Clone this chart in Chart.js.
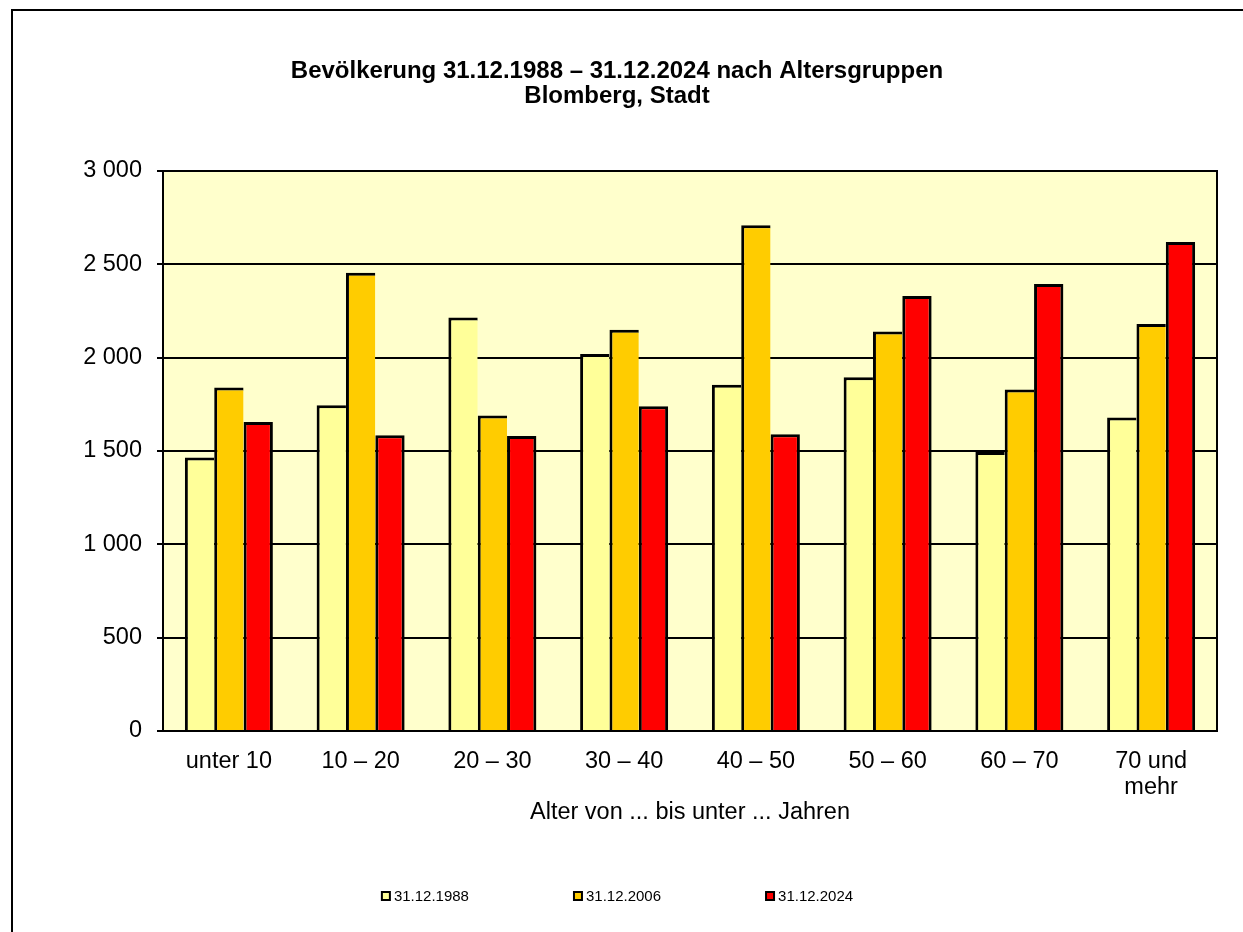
<!DOCTYPE html>
<html>
<head>
<meta charset="utf-8">
<script src="https://cdn.jsdelivr.net/npm/chart.js@4/dist/chart.umd.min.js"></script>
<style>
  html, body { margin: 0; padding: 0; background: #fff; overflow: hidden; }
  #frame { position: absolute; left: 11px; top: 9px; width: 3000px; height: 3000px;
           border-left: 2px solid #000; border-top: 2px solid #000; box-sizing: border-box; }
  #c { position: absolute; left: 0; top: 0; }
</style>
</head>
<body>
<div id="frame"></div>
<canvas id="c" width="1243" height="932"></canvas>
<script>
const categories = ['unter 10', '10 – 20', '20 – 30', '30 – 40', '40 – 50', '50 – 60', '60 – 70', ['70 und', 'mehr']];
const seriesLabels = ['31.12.1988', '31.12.2006', '31.12.2024'];
const values1988 = [1465, 1745, 2215, 2020, 1855, 1895, 1495, 1680];
const values2006 = [1840, 2455, 1690, 2150, 2710, 2140, 1830, 2180];
const values2024 = [1655, 1585, 1580, 1740, 1590, 2330, 2395, 2620];
const yTicks = [0, 500, 1000, 1500, 2000, 2500, 3000];
const titleLines = ['Bevölkerung 31.12.1988 – 31.12.2024 nach Altersgruppen', 'Blomberg, Stadt'];
const xAxisTitle = 'Alter von ... bis unter ... Jahren';

const colors = ['#FFFF99', '#FFCC00', '#FF0000'];
const FONT = "'Liberation Sans', Arial, sans-serif";

function fmt(v) { return String(v).replace(/\B(?=(\d{3})+(?!\d))/g, ' '); }

const plotDecor = {
  id: 'plotDecor',
  beforeDraw(chart) {
    const a = chart.chartArea, ctx = chart.ctx;
    ctx.save();
    ctx.fillStyle = '#FFFFCC';
    ctx.fillRect(a.left, a.top, a.right - a.left, a.bottom - a.top);
    ctx.restore();
  },
  afterDraw(chart) {
    const a = chart.chartArea, ctx = chart.ctx;
    ctx.save();
    ctx.strokeStyle = '#000';
    ctx.lineWidth = 2;
    ctx.strokeRect(a.left, a.top, a.right - a.left, a.bottom - a.top);
    // custom legend
    const tb = chart.titleBlock;
    const center = (tb.left + tb.right) / 2;
    ctx.font = '15px ' + FONT;
    ctx.textBaseline = 'middle';
    ctx.textAlign = 'left';
    const box = 10, gapText = 3, gapItem = 104, y = 896;
    const ds = chart.data.datasets;
    const widths = ds.map(d => box + gapText + ctx.measureText(d.label).width);
    const total = widths.reduce((s, w) => s + w, 0) + gapItem * (ds.length - 1);
    let x = center - total / 2;
    ds.forEach((d, i) => {
      ctx.fillStyle = '#000';
      ctx.fillRect(x, y - box / 2, box, box);
      ctx.fillStyle = d.backgroundColor;
      ctx.fillRect(x + 2, y - box / 2 + 2, box - 4, box - 4);
      ctx.fillStyle = '#000';
      ctx.fillText(d.label, x + box + gapText, y + 1);
      x += widths[i] + gapItem;
    });
    ctx.restore();
  }
};

const inner = {left: 3, top: 3, right: 0, bottom: 0};
const last = {left: 3, top: 3, right: 3, bottom: 0};

new Chart(document.getElementById('c'), {
  type: 'bar',
  data: {
    labels: categories,
    datasets: [
      { label: seriesLabels[0], data: values1988, backgroundColor: colors[0], borderColor: '#000', borderWidth: inner, borderSkipped: 'bottom', inflateAmount: 0 },
      { label: seriesLabels[1], data: values2006, backgroundColor: colors[1], borderColor: '#000', borderWidth: inner, borderSkipped: 'bottom', inflateAmount: 0 },
      { label: seriesLabels[2], data: values2024, backgroundColor: colors[2], borderColor: '#000', borderWidth: last, borderSkipped: 'bottom', inflateAmount: 0 }
    ]
  },
  options: {
    responsive: false,
    devicePixelRatio: 1,
    animation: false,
    layout: { padding: { left: 17, right: 26, top: 0, bottom: 0 } },
    datasets: { bar: { categoryPercentage: 0.668, barPercentage: 1.0 } },
    plugins: {
      legend: { display: false },
      tooltip: { enabled: false },
      title: {
        display: true,
        text: titleLines,
        color: '#000',
        font: { family: FONT, size: 24, weight: 'bold', lineHeight: '25px' },
        padding: { top: 58.5, bottom: 62.5 }
      }
    },
    scales: {
      x: {
        grid: { display: false, drawTicks: false },
        border: { display: true, color: '#000', width: 2 },
        ticks: {
          color: '#000', font: { family: FONT, size: 23.5, lineHeight: '26px' },
          padding: 18, maxRotation: 0, autoSkip: false
        },
        title: {
          display: true, text: xAxisTitle, color: '#000',
          font: { family: FONT, size: 23.5, lineHeight: '24px' },
          padding: { top: 0, bottom: 107 }
        },
        afterFit(scale) { scale.height = 201; }
      },
      y: {
        min: yTicks[0], max: yTicks[yTicks.length - 1],
        afterBuildTicks(scale) { scale.ticks = yTicks.map(v => ({ value: v })); },
        grid: { color: '#000', lineWidth: 2, tickLength: 6, drawTicks: true },
        border: { display: true, color: '#000', width: 2 },
        ticks: {
          color: '#000', font: { family: FONT, size: 23.5 }, padding: 15,
          callback: v => fmt(v)
        },
        afterFit(scale) { scale.width = 146; }
      }
    }
  },
  plugins: [plotDecor]
});
</script>
</body>
</html>
